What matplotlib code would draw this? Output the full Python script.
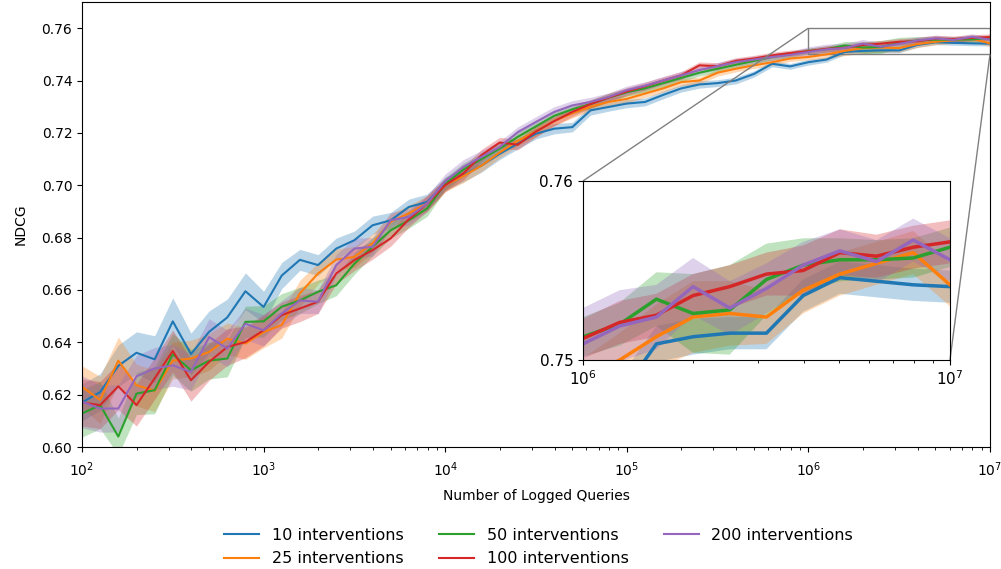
import matplotlib
matplotlib.use("Agg")
import matplotlib.pyplot as plt
import numpy as np
from matplotlib.ticker import FormatStrFormatter
from mpl_toolkits.axes_grid1.inset_locator import mark_inset

# logged queries: 10 steps per decade, 1e2 .. 1e7
queries = np.logspace(2, 7, 51)

labels = ["10 interventions", "25 interventions", "50 interventions",
          "100 interventions", "200 interventions"]
colors = ["#1f77b4", "#ff7f0e", "#2ca02c", "#d62728", "#9467bd"]

ndcg_10 = [0.617, 0.621, 0.631, 0.636, 0.6335, 0.648, 0.6355, 0.644, 0.6495, 0.6595, 0.6535,
           0.6655, 0.6715, 0.6695, 0.6758, 0.679, 0.6847, 0.6866, 0.6917, 0.6936, 0.7006,
           0.7038, 0.7075, 0.712, 0.7159, 0.7197, 0.7216, 0.7222, 0.7286, 0.7299, 0.7312,
           0.7318, 0.7345, 0.737, 0.7385, 0.739, 0.740, 0.7425, 0.7464, 0.7454, 0.747,
           0.748, 0.7509, 0.7513, 0.7515, 0.7515, 0.7536, 0.7546, 0.7544, 0.7542, 0.7541]
ndcg_25 = [0.623, 0.618, 0.633, 0.6236, 0.6215, 0.633, 0.6338, 0.6363, 0.6414, 0.6395, 0.6439,
           0.6466, 0.6587, 0.6663, 0.6716, 0.6726, 0.6778, 0.686, 0.6893, 0.693, 0.700,
           0.7035, 0.7075, 0.7125, 0.717, 0.7205, 0.7245, 0.7275, 0.730, 0.7318, 0.733,
           0.735, 0.737, 0.7394, 0.740, 0.743, 0.7445, 0.7458, 0.747, 0.7484, 0.749,
           0.750, 0.7513, 0.7524, 0.7526, 0.7524, 0.7539, 0.7548, 0.7554, 0.756, 0.7542]
ndcg_50 = [0.6128, 0.616, 0.604, 0.6204, 0.6217, 0.6354, 0.6293, 0.633, 0.6338, 0.6478, 0.648,
           0.6536, 0.656, 0.6593, 0.6618, 0.670, 0.6765, 0.6828, 0.6866, 0.6911, 0.7005,
           0.706, 0.710, 0.714, 0.7185, 0.7225, 0.7265, 0.729, 0.731, 0.7335, 0.7355,
           0.737, 0.739, 0.741, 0.743, 0.7445, 0.746, 0.7475, 0.749, 0.750, 0.7513,
           0.752, 0.7534, 0.7526, 0.7528, 0.7545, 0.7553, 0.7556, 0.7556, 0.7557, 0.7563]
ndcg_100 = [0.617, 0.616, 0.6232, 0.616, 0.6262, 0.6367, 0.6255, 0.6325, 0.6382, 0.6401, 0.6446,
            0.6504, 0.6529, 0.6555, 0.6663, 0.6714, 0.6752, 0.6797, 0.687, 0.693, 0.700,
            0.7045, 0.7115, 0.7163, 0.7155, 0.7205, 0.7245, 0.728, 0.731, 0.7335, 0.7358,
            0.7378, 0.740, 0.742, 0.7458, 0.7455, 0.7475, 0.7484, 0.7496, 0.7505, 0.7512,
            0.7521, 0.7525, 0.7536, 0.7541, 0.7548, 0.755, 0.756, 0.7558, 0.7563, 0.7566]
ndcg_200 = [0.6173, 0.6147, 0.6147, 0.627, 0.630, 0.6312, 0.6287, 0.642, 0.6376, 0.6471, 0.6446,
            0.651, 0.656, 0.6555, 0.6695, 0.6758, 0.6765, 0.6866, 0.6879, 0.693, 0.7015,
            0.707, 0.7108, 0.7146, 0.7203, 0.7242, 0.728, 0.7305, 0.7318, 0.7337, 0.7363,
            0.738, 0.740, 0.742, 0.744, 0.7455, 0.747, 0.748, 0.749, 0.7498, 0.7509,
            0.7519, 0.7524, 0.7541, 0.7529, 0.754, 0.7553, 0.7561, 0.7555, 0.7567, 0.7556]

# half width of the shaded band around each curve
spread_10 = [0.007, 0.007, 0.008, 0.008, 0.009, 0.009, 0.008, 0.008, 0.007, 0.007, 0.006,
             0.005, 0.004, 0.004, 0.004, 0.0035, 0.0035, 0.003, 0.003, 0.003, 0.0025,
             0.0025, 0.0025, 0.0022, 0.002, 0.002, 0.002, 0.0018, 0.0018, 0.0016, 0.0016,
             0.0015, 0.0015, 0.0014, 0.0014, 0.0013, 0.0013, 0.0012, 0.0012, 0.0011, 0.0011,
             0.001, 0.001, 0.001, 0.0009, 0.0009, 0.0009, 0.0009, 0.0009, 0.0009, 0.0009]
spread_25 = [0.008, 0.009, 0.009, 0.008, 0.008, 0.007, 0.007, 0.007, 0.006, 0.006, 0.006,
             0.005, 0.005, 0.004, 0.004, 0.004, 0.0035, 0.003, 0.003, 0.003, 0.0025,
             0.0025, 0.0022, 0.002, 0.002, 0.002, 0.0018, 0.0018, 0.0016, 0.0016, 0.0015,
             0.0015, 0.0014, 0.0014, 0.0013, 0.0013, 0.0012, 0.0012, 0.0012, 0.0011, 0.0011,
             0.0015, 0.0018, 0.002, 0.0018, 0.0015, 0.0013, 0.0012, 0.0012, 0.0012, 0.0012]
spread_50 = [0.009, 0.009, 0.007, 0.008, 0.009, 0.008, 0.008, 0.007, 0.007, 0.006, 0.006,
             0.005, 0.005, 0.0045, 0.004, 0.004, 0.0035, 0.003, 0.003, 0.003, 0.0025,
             0.0025, 0.0022, 0.002, 0.002, 0.002, 0.0018, 0.0018, 0.0016, 0.0016, 0.0015,
             0.0015, 0.0014, 0.0014, 0.0013, 0.0013, 0.0012, 0.0012, 0.0012, 0.0011, 0.0011,
             0.0012, 0.0015, 0.0022, 0.0025, 0.002, 0.0015, 0.0012, 0.0011, 0.0011, 0.0011]
spread_100 = [0.009, 0.009, 0.009, 0.008, 0.008, 0.008, 0.008, 0.007, 0.007, 0.006, 0.006,
              0.005, 0.005, 0.0045, 0.004, 0.004, 0.0035, 0.003, 0.003, 0.003, 0.0025,
              0.0025, 0.0022, 0.002, 0.002, 0.002, 0.0018, 0.0018, 0.0016, 0.0016, 0.0015,
              0.0015, 0.0014, 0.0014, 0.0013, 0.0013, 0.0012, 0.0012, 0.0012, 0.0011, 0.0011,
              0.0012, 0.0012, 0.0012, 0.0012, 0.0012, 0.0014, 0.0013, 0.0012, 0.0012, 0.0012]
spread_200 = [0.01, 0.009, 0.009, 0.008, 0.008, 0.008, 0.007, 0.007, 0.007, 0.006, 0.006,
              0.005, 0.005, 0.0045, 0.004, 0.004, 0.0035, 0.003, 0.003, 0.003, 0.0028,
              0.0028, 0.0025, 0.0022, 0.002, 0.002, 0.002, 0.0018, 0.0018, 0.0016, 0.0016,
              0.0015, 0.0015, 0.0015, 0.0014, 0.0014, 0.0014, 0.0013, 0.0013, 0.0013, 0.002,
              0.002, 0.0018, 0.0016, 0.0015, 0.0014, 0.0013, 0.0012, 0.0012, 0.0012, 0.0012]

series = [ndcg_10, ndcg_25, ndcg_50, ndcg_100, ndcg_200]
spreads = [spread_10, spread_25, spread_50, spread_100, spread_200]


def draw(ax, lw):
    for vals, sp, c, lab in zip(series, spreads, colors, labels):
        vals = np.array(vals)
        sp = np.array(sp)
        ax.fill_between(queries, vals - sp, vals + sp, color=c, alpha=0.3, linewidth=0)
        ax.plot(queries, vals, color=c, linewidth=lw, label=lab)


fig = plt.figure(figsize=(10.01, 5.69), dpi=100)
ax = fig.add_axes([0.0819, 0.2144, 0.9071, 0.7821])
draw(ax, 1.5)
ax.set_xscale("log")
ax.set_xlim(1e2, 1e7)
ax.set_ylim(0.60, 0.77)
ax.set_yticks(np.arange(0.60, 0.761, 0.02))
ax.yaxis.set_major_formatter(FormatStrFormatter("%.2f"))
ax.tick_params(axis="x", pad=6)
ax.set_xlabel("Number of Logged Queries", labelpad=7)
ax.set_ylabel("NDCG", labelpad=10)

axins = fig.add_axes([0.5824, 0.3673, 0.3666, 0.3146])
draw(axins, 2.5)
axins.set_xscale("log")
axins.set_xlim(1e6, 1e7)
axins.set_ylim(0.75, 0.76)
axins.set_yticks([0.75, 0.76])
axins.yaxis.set_major_formatter(FormatStrFormatter("%.2f"))
axins.tick_params(labelsize=11)
mark_inset(ax, axins, loc1=2, loc2=4, fc="none", ec="0.5")

fig.legend(*ax.get_legend_handles_labels(), loc="upper center",
           bbox_to_anchor=(0.538, 0.098), ncol=3, frameon=False,
           fontsize=11.5, handlelength=2.2, columnspacing=2.2, labelspacing=0.55)

fig.savefig("out.png", dpi=100)
